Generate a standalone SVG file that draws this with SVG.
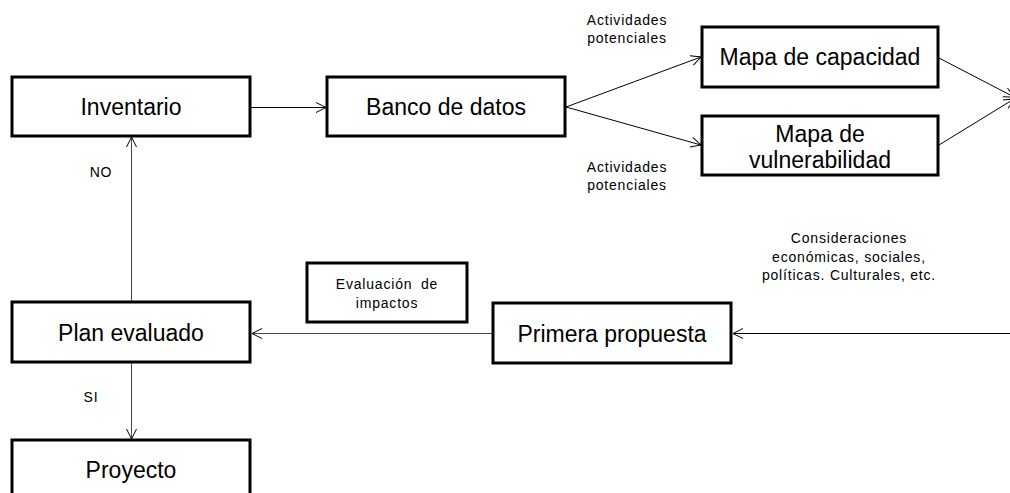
<svg xmlns="http://www.w3.org/2000/svg" width="1010" height="493" viewBox="0 0 1010 493">
<style>
.box{fill:#fff;stroke:#000;stroke-width:3}
.big{font-family:"Liberation Sans",Arial,sans-serif;font-size:23px;fill:#000;text-anchor:middle}
.sm{font-family:"Liberation Sans",Arial,sans-serif;font-size:14px;letter-spacing:0.8px;fill:#000;text-anchor:middle}
.ln{fill:none;stroke:#000;stroke-width:1}
.lg{fill:none;stroke:#444;stroke-width:1}
</style>
<defs>
<marker id="ah" viewBox="0 0 12 12" refX="11" refY="6" markerWidth="12" markerHeight="12" markerUnits="userSpaceOnUse" orient="auto">
<path d="M1,1 L11,6 L1,11" fill="none" stroke="#000" stroke-width="1"/>
</marker>
</defs>
<rect width="1010" height="493" fill="#fff"/>
<g id="connectors">
<line class="ln" x1="251" y1="107.5" x2="326" y2="107.5" marker-end="url(#ah)"/>
<line class="ln" x1="566" y1="107" x2="701" y2="57" marker-end="url(#ah)"/>
<line class="ln" x1="566" y1="107" x2="701" y2="145" marker-end="url(#ah)"/>
<line class="ln" x1="939" y1="58" x2="1014" y2="97" marker-end="url(#ah)"/>
<line class="ln" x1="939" y1="145" x2="1014" y2="99" marker-end="url(#ah)"/>
<line class="ln" x1="1012" y1="333.5" x2="733" y2="333.5" marker-end="url(#ah)"/>
<line class="lg" x1="492" y1="333.5" x2="252" y2="333.5" marker-end="url(#ah)"/>
<line class="lg" x1="131.5" y1="301" x2="131.5" y2="137" marker-end="url(#ah)"/>
<line class="lg" x1="131.5" y1="363" x2="131.5" y2="439" marker-end="url(#ah)"/>
<text class="sm" x="627" y="25">Actividades</text>
<text class="sm" x="627" y="43">potenciales</text>
<text class="sm" x="627" y="172">Actividades</text>
<text class="sm" x="627" y="190">potenciales</text>
<text class="sm" x="101" y="177">NO</text>
<text class="sm" x="91" y="402">SI</text>
<text class="sm" x="849" y="243">Consideraciones</text>
<text class="sm" x="849" y="262">económicas, sociales,</text>
<text class="sm" x="849" y="280">políticas. Culturales, etc.</text>
</g>
<g id="inventario">
<rect class="box" x="12" y="77" width="238" height="59"/>
<text class="big" x="131" y="115">Inventario</text>
</g>
<g id="banco">
<rect class="box" x="327" y="77" width="238" height="59"/>
<text class="big" x="446" y="115">Banco de datos</text>
</g>
<g id="mapa-capacidad">
<rect class="box" x="702" y="27" width="236" height="60"/>
<text class="big" x="820" y="65">Mapa de capacidad</text>
</g>
<g id="mapa-vulnerabilidad">
<rect class="box" x="702" y="116" width="236" height="59"/>
<text class="big" x="820" y="142">Mapa de</text>
<text class="big" x="820" y="168">vulnerabilidad</text>
</g>
<g id="evaluacion">
<rect class="box" x="307" y="263" width="160" height="59"/>
<text class="sm" x="387" y="289" word-spacing="4">Evaluación de</text>
<text class="sm" x="387" y="308">impactos</text>
</g>
<g id="primera">
<rect class="box" x="493" y="303" width="238" height="60"/>
<text class="big" x="612" y="342">Primera propuesta</text>
</g>
<g id="plan">
<rect class="box" x="12" y="302" width="238" height="60"/>
<text class="big" x="131" y="341">Plan evaluado</text>
</g>
<g id="proyecto">
<rect class="box" x="12" y="440" width="238" height="70"/>
<text class="big" x="131" y="478">Proyecto</text>
</g>
</svg>
